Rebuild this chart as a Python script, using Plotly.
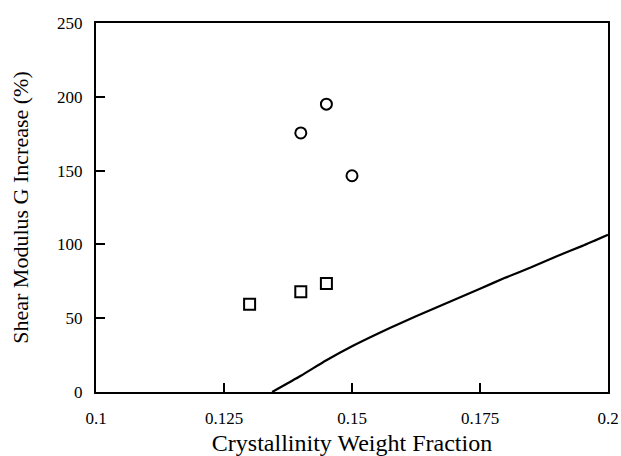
import plotly.graph_objects as go

circle_x = [0.140, 0.145, 0.150]
circle_y = [175.5, 195.0, 146.5]

square_x = [0.130, 0.140, 0.145]
square_y = [59.5, 68.0, 73.5]

line_x = [0.1344, 0.140, 0.145, 0.150, 0.155, 0.160, 0.165, 0.170, 0.175, 0.180, 0.185, 0.190, 0.195, 0.200]
line_y = [0.0, 11.0, 21.5, 31.0, 39.5, 47.5, 55.0, 62.5, 70.0, 77.5, 84.5, 92.0, 99.0, 106.5]

x_ticks = [0.1, 0.125, 0.15, 0.175, 0.2]
x_tick_text = ["0.1", "0.125", "0.15", "0.175", "0.2"]
y_ticks = [0, 50, 100, 150, 200, 250]

fig = go.Figure()
fig.add_trace(go.Scatter(x=line_x, y=line_y, mode="lines",
                         line=dict(color="black", width=2.2, shape="spline", smoothing=0.6),
                         showlegend=False))
fig.add_trace(go.Scatter(x=circle_x, y=circle_y, mode="markers",
                         marker=dict(symbol="circle-open", size=11, color="black",
                                     line=dict(width=2, color="black")),
                         showlegend=False))
fig.add_trace(go.Scatter(x=square_x, y=square_y, mode="markers",
                         marker=dict(symbol="square-open", size=11, color="black",
                                     line=dict(width=2, color="black")),
                         showlegend=False))

font = dict(family="Liberation Serif, Times New Roman, serif", color="black")
fig.update_layout(
    width=621, height=456,
    margin=dict(l=96, r=13, t=23, b=64),
    paper_bgcolor="white", plot_bgcolor="white",
    font=dict(size=16, **font),
    xaxis=dict(range=[0.1, 0.2], tickvals=x_ticks, ticktext=x_tick_text,
               ticks="inside", ticklen=9, tickwidth=1.5, tickcolor="black",
               showline=True, linecolor="black", linewidth=2, mirror=True,
               showgrid=False, zeroline=False, automargin=False,
               tickfont=dict(size=17, **font), ticklabelstandoff=10,
               title=dict(text="Crystallinity Weight Fraction", font=dict(size=24, **font),
                          standoff=12)),
    yaxis=dict(range=[0, 250], tickvals=y_ticks,
               ticks="inside", ticklen=9, tickwidth=1.5, tickcolor="black",
               showline=True, linecolor="black", linewidth=2, mirror=True,
               showgrid=False, zeroline=False, automargin=False,
               tickfont=dict(size=17, **font), ticklabelstandoff=8,
               title=dict(text="Shear Modulus G Increase (%)", font=dict(size=22, **font),
                          standoff=22)),
)
fig.write_html("out.html")
